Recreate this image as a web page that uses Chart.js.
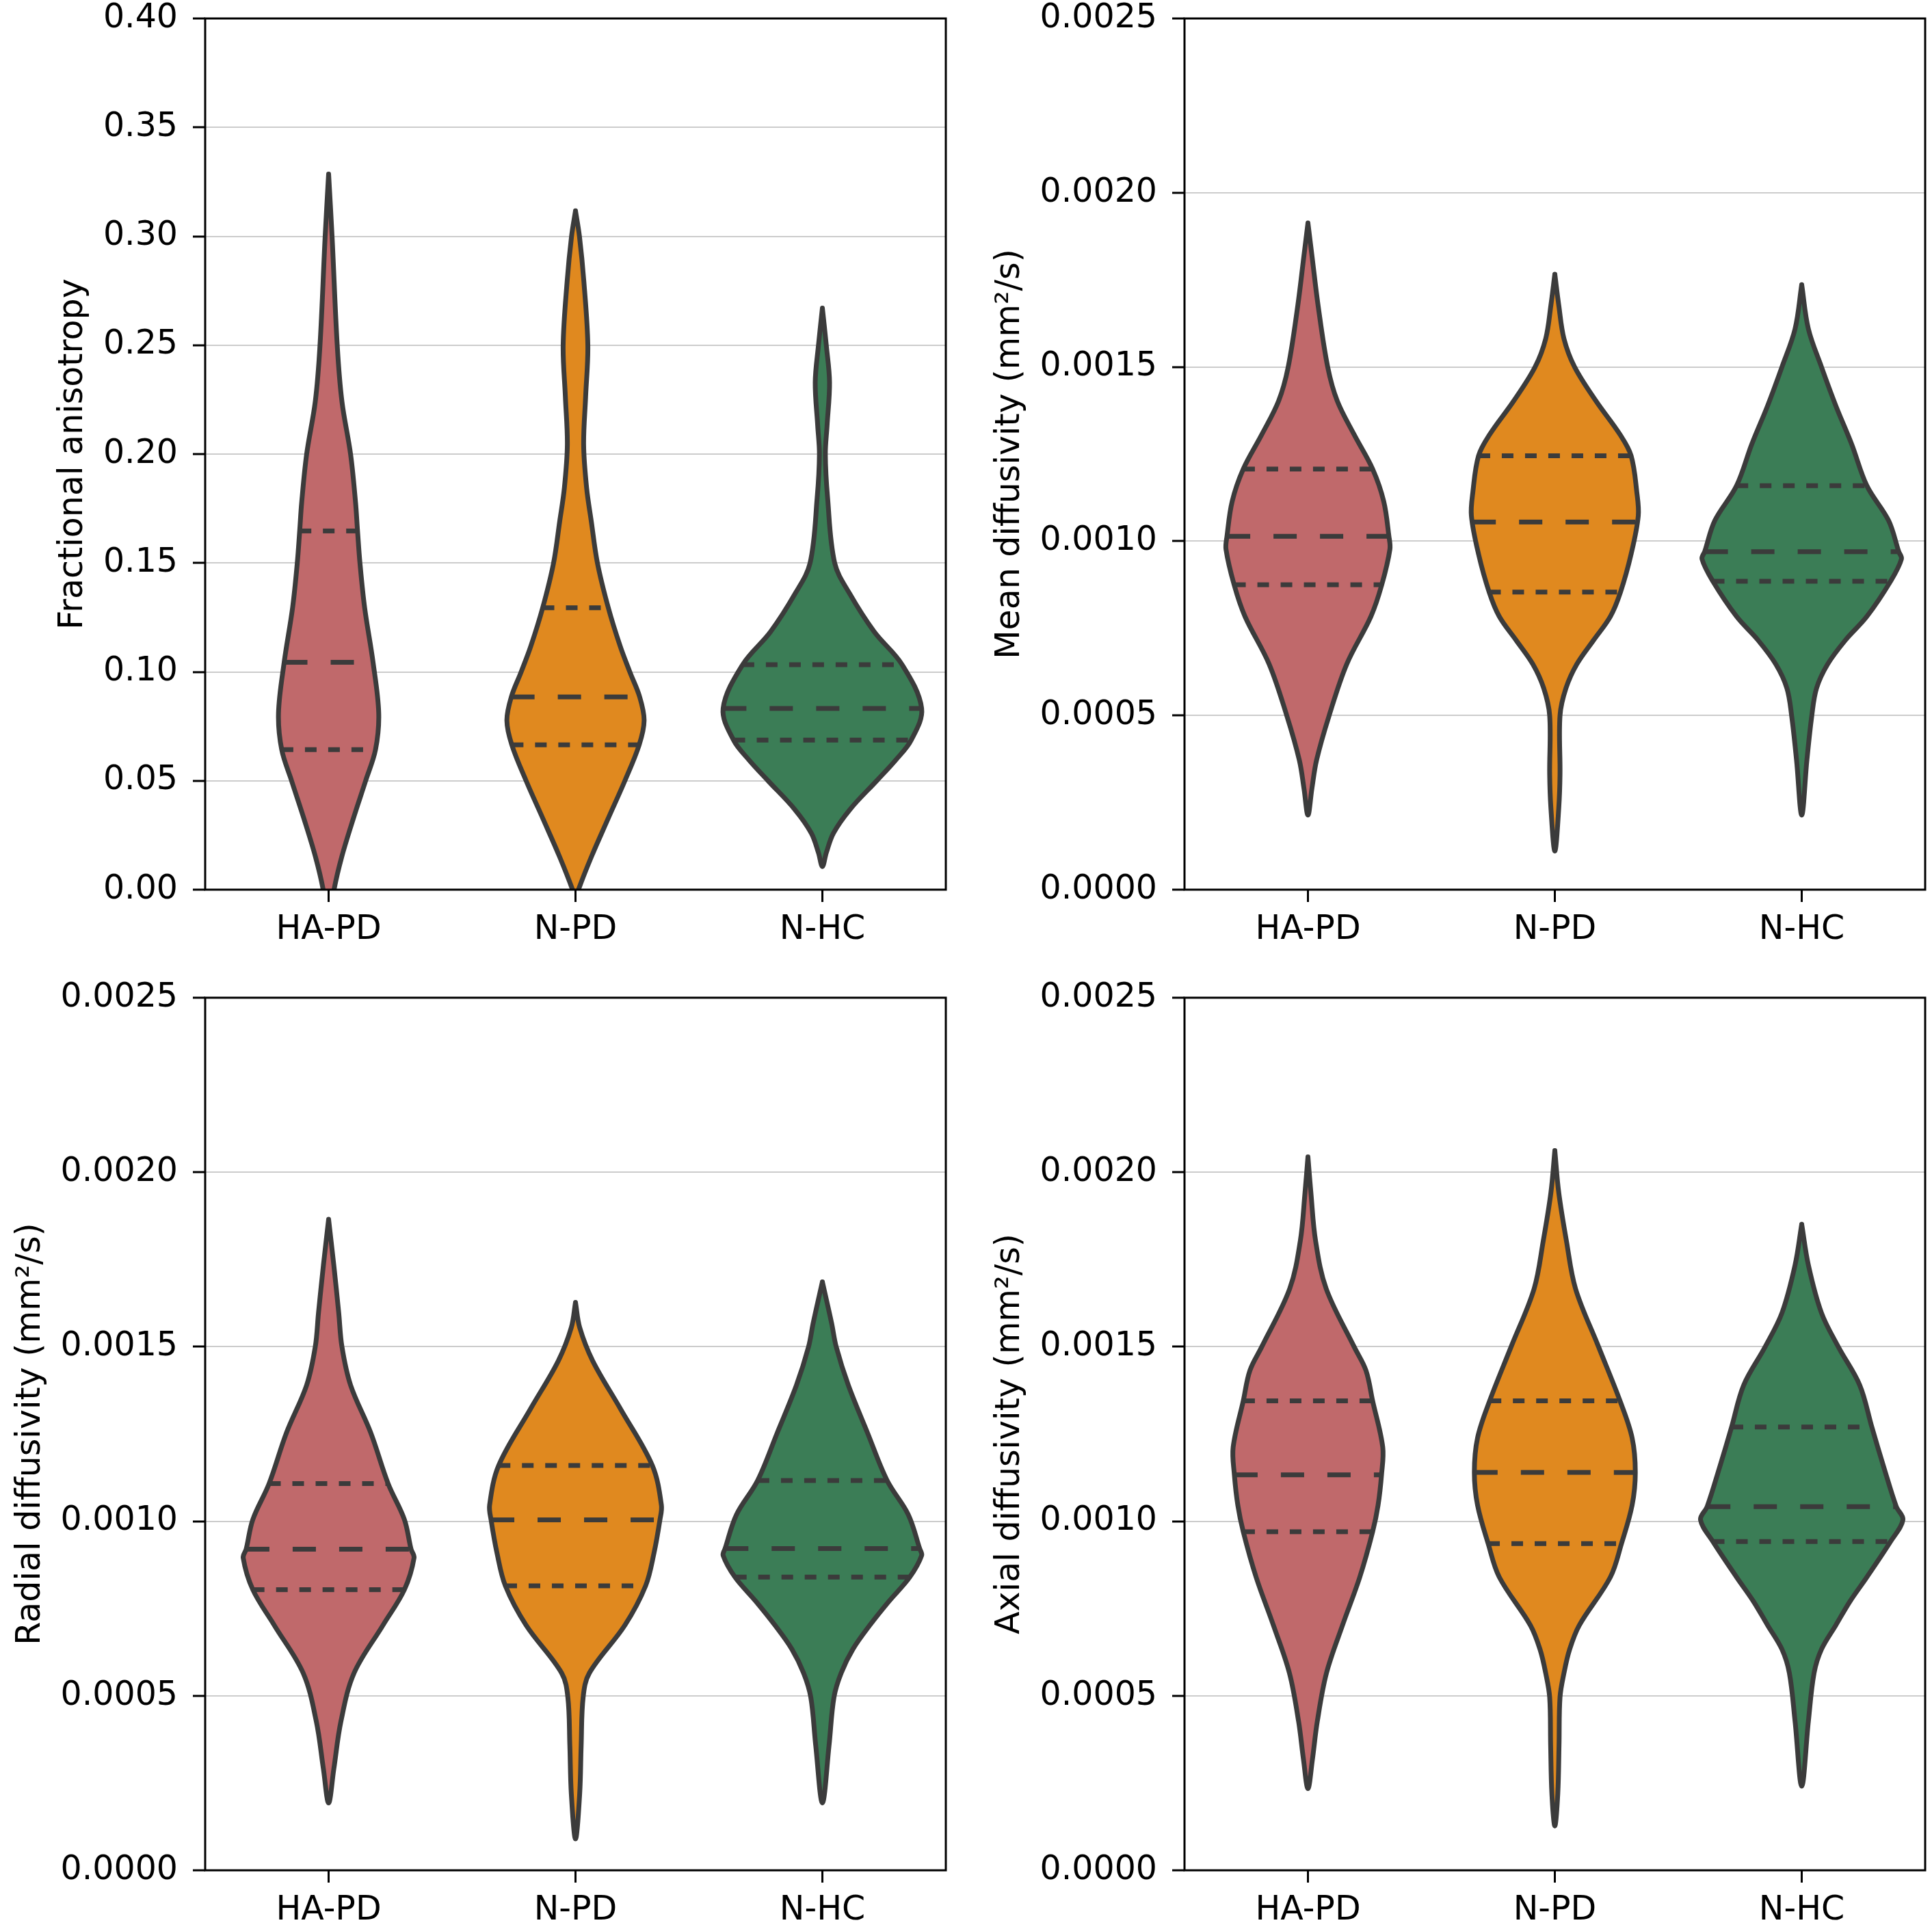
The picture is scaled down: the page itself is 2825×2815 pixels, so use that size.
<!DOCTYPE html>
<html>
<head>
<meta charset="utf-8">
<script src="https://cdn.jsdelivr.net/npm/chart.js@4.4.1/dist/chart.umd.min.js"></script>
<style>
  html, body { margin: 0; padding: 0; background: #fff; overflow: hidden; }
  #wrap { position: relative; width: 2825px; height: 2815px; }
  canvas { position: absolute; }
</style>
</head>
<body>
<div id="wrap">
  <canvas id="fa" width="1393" height="1401" style="left:0px;top:0px"></canvas>
  <canvas id="md" width="1393" height="1401" style="left:1432px;top:0px"></canvas>
  <canvas id="rd" width="1393" height="1403" style="left:0px;top:1432px"></canvas>
  <canvas id="ad" width="1393" height="1403" style="left:1432px;top:1432px"></canvas>
</div>
<script>
// ========= Data =========
const groups = ['HA-PD', 'N-PD', 'N-HC'];
const faTicks = [0, 0.05, 0.10, 0.15, 0.20, 0.25, 0.30, 0.35, 0.40];
const diffTicks = [0, 0.0005, 0.0010, 0.0015, 0.0020, 0.0025];

// violin outlines: [value, half width in category units], top to bottom
const faHapd = [[0.3286,0],[0.30,0.014],[0.2498,0.035],[0.2241,0.054],[0.1999,0.089],[0.1779,0.109],[0.165,0.117],[0.1499,0.127],[0.1294,0.146],[0.1044,0.18],[0.081,0.203],[0.0643,0.19],[0.05,0.15],[0.0326,0.1],[0.015,0.053],[0,0.022],[-0.012,0.008],[-0.018,0]];
const faNpd = [[0.3117,0],[0.30,0.016],[0.2791,0.034],[0.2498,0.05],[0.2263,0.041],[0.2043,0.033],[0.1845,0.045],[0.1691,0.064],[0.1499,0.089],[0.1294,0.133],[0.1118,0.181],[0.10,0.22],[0.0885,0.26],[0.0777,0.278],[0.0665,0.258],[0.05,0.2],[0.0326,0.132],[0.015,0.064],[0,0.012],[-0.005,0]];
const faNhc = [[0.267,0],[0.2498,0.016],[0.2329,0.029],[0.2131,0.019],[0.1999,0.012],[0.1801,0.021],[0.1499,0.05],[0.136,0.11],[0.1184,0.21],[0.1033,0.323],[0.0832,0.402],[0.0687,0.36],[0.0595,0.297],[0.05,0.22],[0.037,0.113],[0.026,0.045],[0.017,0.016],[0.0106,0]];

const mdHapd = [[0.001913,0],[0.001815,0.017],[0.001677,0.041],[0.0015,0.08],[0.001402,0.119],[0.001306,0.187],[0.001207,0.262],[0.001114,0.307],[0.001014,0.328],[0.000977,0.332],[0.000875,0.299],[0.000784,0.255],[0.000647,0.157],[0.0005,0.086],[0.000372,0.035],[0.00029,0.016],[0.000214,0]];
const mdNpd = [[0.001766,0],[0.001677,0.016],[0.001581,0.037],[0.0015,0.08],[0.001402,0.167],[0.001306,0.264],[0.001245,0.309],[0.001141,0.332],[0.001073,0.338],[0.000963,0.309],[0.000854,0.266],[0.000784,0.225],[0.000716,0.157],[0.000647,0.089],[0.000578,0.045],[0.0005,0.021],[0.000331,0.021],[0.000235,0.016],[0.000111,0]];
const mdNhc = [[0.001736,0],[0.001609,0.027],[0.0015,0.08],[0.001389,0.138],[0.001279,0.202],[0.001159,0.264],[0.001059,0.352],[0.00097,0.393],[0.000949,0.404],[0.000885,0.36],[0.000784,0.264],[0.000716,0.177],[0.000647,0.105],[0.000578,0.06],[0.0005,0.041],[0.000372,0.021],[0.000214,0]];

const rdHapd = [[0.001865,0],[0.001734,0.021],[0.001597,0.041],[0.0015,0.054],[0.00139,0.089],[0.001253,0.171],[0.001108,0.241],[0.001005,0.307],[0.00092,0.334],[0.000895,0.346],[0.000804,0.307],[0.000702,0.22],[0.000565,0.103],[0.000427,0.05],[0.00029,0.021],[0.000193,0]];
const rdNpd = [[0.001627,0],[0.001555,0.017],[0.001459,0.07],[0.001321,0.183],[0.00116,0.311],[0.001046,0.348],[0.001004,0.342],[0.000909,0.318],[0.000815,0.284],[0.000702,0.2],[0.000565,0.056],[0.000496,0.031],[0.000358,0.023],[0.00022,0.017],[0.00009,0]];
const rdNhc = [[0.001686,0],[0.001569,0.037],[0.0015,0.056],[0.00139,0.105],[0.001253,0.183],[0.001117,0.262],[0.001019,0.348],[0.000922,0.394],[0.000902,0.402],[0.00084,0.354],[0.000771,0.27],[0.000702,0.192],[0.000634,0.124],[0.000565,0.076],[0.000496,0.047],[0.000358,0.027],[0.000193,0]];

const adHapd = [[0.002044,0],[0.001941,0.012],[0.001803,0.031],[0.001666,0.074],[0.0015,0.187],[0.001432,0.235],[0.001345,0.262],[0.001212,0.303],[0.001133,0.298],[0.001046,0.284],[0.00097,0.262],[0.00084,0.21],[0.000702,0.14],[0.000565,0.075],[0.000427,0.038],[0.000317,0.018],[0.000234,0]];
const adNpd = [[0.002062,0],[0.001941,0.016],[0.001803,0.047],[0.001666,0.084],[0.0015,0.177],[0.001345,0.264],[0.001239,0.313],[0.00114,0.326],[0.001046,0.313],[0.000936,0.27],[0.00084,0.225],[0.000702,0.099],[0.000633,0.06],[0.000565,0.037],[0.000496,0.021],[0.000358,0.017],[0.00022,0.012],[0.000127,0]];
const adNhc = [[0.001851,0],[0.001734,0.027],[0.001597,0.08],[0.0015,0.148],[0.00139,0.235],[0.00127,0.284],[0.001156,0.332],[0.001042,0.383],[0.001004,0.41],[0.000942,0.36],[0.00084,0.264],[0.000771,0.196],[0.000702,0.138],[0.000633,0.08],[0.000565,0.05],[0.000427,0.027],[0.000241,0]];

// quartiles per group: [q1, median, q3]
const faQuart = [[0.0643, 0.1044, 0.1647], [0.0665, 0.0885, 0.1294], [0.0687, 0.0832, 0.1033]];
const mdQuart = [[0.000875, 0.001014, 0.001207], [0.000854, 0.001055, 0.001245], [0.000885, 0.00097, 0.001159]];
const rdQuart = [[0.000804, 0.00092, 0.001108], [0.000815, 0.001004, 0.00116], [0.00084, 0.000922, 0.001117]];
const adQuart = [[0.00097, 0.001133, 0.001345], [0.000936, 0.00114, 0.001345], [0.000942, 0.001042, 0.00127]];

// ========= Style =========
const fills = ['#c0696b', '#e0891f', '#3b7d56'];
const outline = '#3b3b3b';
const FONT = 'DejaVu Sans';
const LW = 7;

// ========= Helpers =========
function widthAt(shape, v) {
  for (let i = 0; i < shape.length - 1; i++) {
    const [y0, w0] = shape[i], [y1, w1] = shape[i + 1];
    if (v <= y0 && v >= y1) return w0 + (w1 - w0) * (y0 - v) / (y0 - y1);
  }
  return 0;
}

function violinSet(shape, c, color) {
  const right = shape.map(([y, w]) => ({ x: c + w, y }));
  const left = shape.slice(0, -1).reverse().map(([y, w]) => ({ x: c - w, y }));
  return {
    data: right.concat(left), showLine: true, fill: 'shape',
    backgroundColor: color, borderColor: outline, borderWidth: LW,
    borderCapStyle: 'round', borderJoinStyle: 'round',
    tension: 0.35, pointRadius: 0, pointHitRadius: 0, order: 2
  };
}

function quartSets(q, shape, c) {
  return q.map((v, i) => {
    const w = widthAt(shape, v);
    return {
      data: [{ x: c - w, y: v }, { x: c + w, y: v }], showLine: true, fill: false,
      borderColor: outline, borderWidth: LW, borderDash: i === 1 ? [34, 34] : [17, 17],
      tension: 0, pointRadius: 0, pointHitRadius: 0, order: 1
    };
  });
}

// ========= Plugins =========
const frame = {
  id: 'frame',
  afterDraw(chart) {
    const { ctx, chartArea: a } = chart;
    ctx.save();
    ctx.strokeStyle = '#000';
    ctx.lineWidth = 3;
    ctx.strokeRect(a.left, a.top, a.right - a.left, a.bottom - a.top);
    ctx.restore();
  }
};

const yTitle = {
  id: 'yTitle',
  afterDraw(chart, args, opts) {
    const { ctx, chartArea: a } = chart;
    ctx.save();
    ctx.font = '49px "' + FONT + '"';
    ctx.fillStyle = '#000';
    ctx.textAlign = 'center';
    ctx.textBaseline = 'alphabetic';
    ctx.translate(a.left - opts.offset, (a.top + a.bottom) / 2);
    ctx.rotate(-Math.PI / 2);
    ctx.fillText(opts.text, 0, 0);
    ctx.restore();
  }
};

// ========= Panels =========
const panels = [
  { id: 'fa', title: 'Fractional anisotropy', offset: 180, ticks: faTicks, dec: 2, shapes: [faHapd, faNpd, faNhc], quart: faQuart },
  { id: 'md', title: 'Mean diffusivity (mm\u00b2/s)', offset: 242, ticks: diffTicks, dec: 4, shapes: [mdHapd, mdNpd, mdNhc], quart: mdQuart },
  { id: 'rd', title: 'Radial diffusivity (mm\u00b2/s)', offset: 242, ticks: diffTicks, dec: 4, shapes: [rdHapd, rdNpd, rdNhc], quart: rdQuart },
  { id: 'ad', title: 'Axial diffusivity (mm\u00b2/s)', offset: 242, ticks: diffTicks, dec: 4, shapes: [adHapd, adNpd, adNhc], quart: adQuart }
];

panels.forEach(p => {
  let datasets = [];
  p.shapes.forEach((s, i) => {
    datasets.push(violinSet(s, i, fills[i]));
    datasets = datasets.concat(quartSets(p.quart[i], s, i));
  });
  const xFont = { family: FONT, size: 49, lineHeight: 1 };
  // small line height keeps the label overflow from pushing the plot area down
  const yFont = { family: FONT, size: 49, lineHeight: 0.2 };

  new Chart(document.getElementById(p.id), {
    type: 'scatter',
    data: { datasets },
    options: {
      responsive: false,
      animation: false,
      devicePixelRatio: 1,
      events: [],
      layout: { autoPadding: false, padding: { left: 0, top: 27, right: 10, bottom: 0 } },
      plugins: {
        legend: { display: false },
        tooltip: { enabled: false },
        yTitle: { text: p.title, offset: p.offset }
      },
      scales: {
        x: {
          type: 'linear', min: -0.5, max: 2.5,
          afterBuildTicks: s => { s.ticks = groups.map((g, i) => ({ value: i })); },
          afterFit: s => { s.height = 100; },
          ticks: { callback: (v, i) => groups[i], font: xFont, color: '#000', padding: 17, autoSkip: false, maxRotation: 0 },
          grid: { drawOnChartArea: false, drawTicks: true, tickLength: 18, tickColor: '#000', tickWidth: 3 },
          border: { display: false }
        },
        y: {
          type: 'linear', min: 0, max: p.ticks[p.ticks.length - 1], z: 1,
          afterBuildTicks: s => { s.ticks = p.ticks.map(v => ({ value: v })); },
          afterFit: s => { s.width = 300; },
          ticks: { callback: v => v.toFixed(p.dec), font: yFont, color: '#000', padding: 22 },
          grid: { color: '#cccccc', lineWidth: 2, drawTicks: true, tickLength: 18, tickColor: '#000', tickWidth: 3 },
          border: { display: false }
        }
      }
    },
    plugins: [frame, yTitle]
  });
});
</script>
</body>
</html>
